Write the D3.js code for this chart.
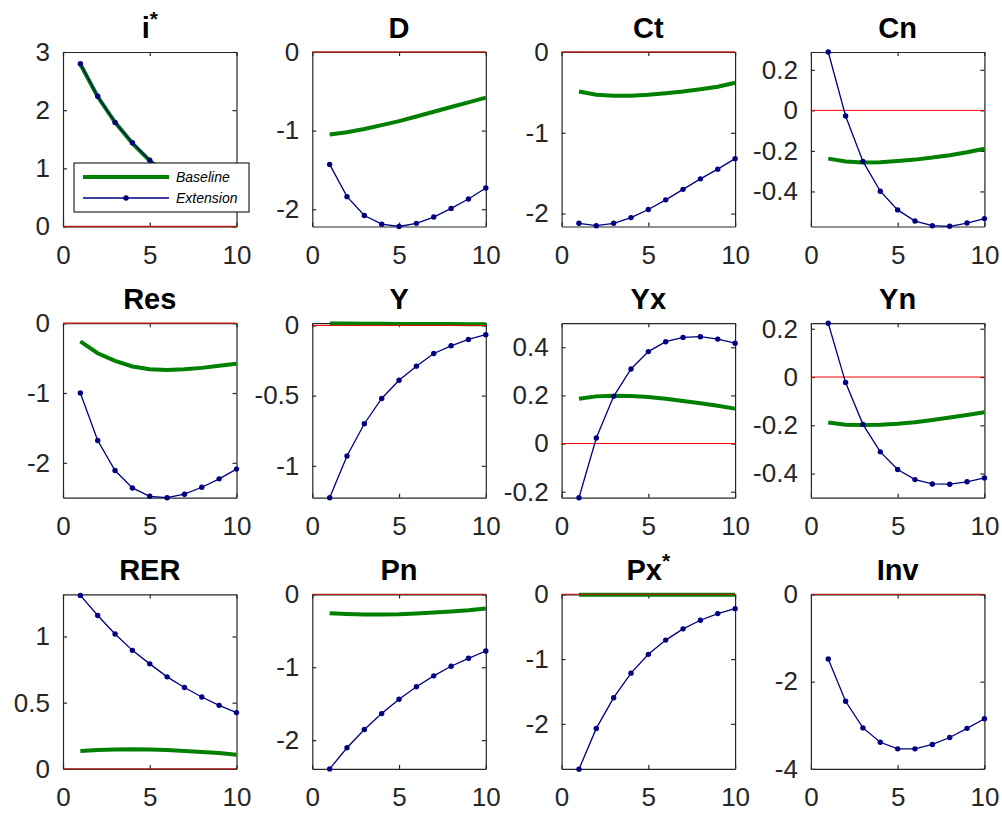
<!DOCTYPE html>
<html lang="en">
<head>
    <meta charset="UTF-8">
    <title>IRF</title>
    <style>
        body{ margin:0; background:#fff; }
        text{ font-family:"Liberation Sans", Arial, Helvetica, sans-serif; }
        .tick text{ fill:#262626; font-size:26px; }
        .domain, .tick line{ stroke:#262626; stroke-width:1.2px; }
    </style>
    <script src="https://d3js.org/d3.v7.min.js"></script>
</head>
<body>
    <div class="canvas"></div>
    <script>
    const periods = [1, 2, 3, 4, 5, 6, 7, 8, 9, 10];
    const titles = ['i*', 'D', 'Ct', 'Cn', 'Res', 'Y', 'Yx', 'Yn', 'RER', 'Pn', 'Px*', 'Inv'];

    // baseline (green) responses
    const baseIstar = [2.79, 2.23, 1.79, 1.43, 1.13, 0.90, 0.72, 0.57, 0.46, 0.37];
    const baseD   = [-1.05, -1.02, -0.98, -0.93, -0.88, -0.82, -0.76, -0.70, -0.64, -0.58];
    const baseCt  = [-0.49, -0.53, -0.54, -0.54, -0.53, -0.51, -0.49, -0.46, -0.43, -0.38];
    const baseCn  = [-0.238, -0.252, -0.257, -0.256, -0.250, -0.243, -0.233, -0.221, -0.207, -0.189];
    const baseRes = [-0.26, -0.43, -0.54, -0.62, -0.66, -0.67, -0.66, -0.64, -0.61, -0.58];
    const baseY   = [0.013, 0.013, 0.012, 0.012, 0.011, 0.011, 0.010, 0.010, 0.009, 0.009];
    const baseYx  = [0.186, 0.196, 0.199, 0.198, 0.193, 0.186, 0.177, 0.167, 0.157, 0.145];
    const baseYn  = [-0.188, -0.198, -0.199, -0.198, -0.194, -0.187, -0.178, -0.168, -0.157, -0.146];
    const baseRER = [0.135, 0.142, 0.147, 0.148, 0.146, 0.142, 0.136, 0.128, 0.120, 0.107];
    const basePn  = [-0.259, -0.270, -0.277, -0.277, -0.273, -0.263, -0.250, -0.235, -0.218, -0.195];
    const basePx  = [-0.004, -0.004, -0.004, -0.004, -0.004, -0.004, -0.004, -0.004, -0.004, -0.004];
    const baseInv = [];

    // extension (navy, dotted markers) responses
    const extIstar = [2.80, 2.24, 1.79, 1.44, 1.14, 0.91, 0.73, 0.58, 0.47, 0.38];
    const extD   = [-1.43, -1.84, -2.08, -2.19, -2.22, -2.18, -2.10, -1.99, -1.87, -1.73];
    const extCt  = [-2.12, -2.15, -2.12, -2.05, -1.95, -1.83, -1.70, -1.57, -1.45, -1.32];
    const extCn  = [0.288, -0.028, -0.252, -0.399, -0.491, -0.546, -0.569, -0.572, -0.556, -0.534];
    const extRes = [-1.00, -1.68, -2.11, -2.36, -2.48, -2.50, -2.45, -2.35, -2.23, -2.09];
    const extY   = [-1.227, -0.93, -0.70, -0.52, -0.39, -0.29, -0.20, -0.145, -0.10, -0.066];
    const extYx  = [-0.225, 0.023, 0.196, 0.310, 0.382, 0.423, 0.441, 0.444, 0.434, 0.417];
    const extYn  = [0.223, -0.023, -0.196, -0.310, -0.383, -0.425, -0.443, -0.444, -0.434, -0.418];
    const extRER = [1.31, 1.158, 1.018, 0.895, 0.793, 0.695, 0.615, 0.543, 0.480, 0.425];
    const extPn  = [-2.395, -2.105, -1.855, -1.636, -1.44, -1.268, -1.118, -0.986, -0.877, -0.777];
    const extPx  = [-2.70, -2.07, -1.596, -1.217, -0.926, -0.706, -0.532, -0.399, -0.297, -0.22];
    const extInv = [-1.48, -2.45, -3.06, -3.39, -3.54, -3.54, -3.44, -3.28, -3.07, -2.85];

    const baselines = [baseIstar, baseD, baseCt, baseCn, baseRes, baseY, baseYx, baseYn, baseRER, basePn, basePx, baseInv];
    const extensions = [extIstar, extD, extCt, extCn, extRes, extY, extYx, extYn, extRER, extPn, extPx, extInv];

    // y limits and y tick values per panel
    const yLimits = [[0, 3], [-2.22, 0], [-2.16, 0], [-0.573, 0.288], [-2.5, 0], [-1.227, 0.016],
                     [-0.225, 0.5], [-0.5, 0.223], [0, 1.3175], [-2.395, 0], [-2.696, 0], [-4, 0]];
    const yTicks = [[0, 1, 2, 3], [-2, -1, 0], [-2, -1, 0], [-0.4, -0.2, 0, 0.2], [-2, -1, 0], [-1, -0.5, 0],
                    [-0.2, 0, 0.2, 0.4], [-0.4, -0.2, 0, 0.2], [0, 0.5, 1], [-2, -1, 0], [-2, -1, 0], [-4, -2, 0]];
    const xTicks = [0, 5, 10];
    const legendLabels = ['Baseline', 'Extension'];

    const W = 173.5, H = 174.5;
    const svg = d3.select('.canvas')
                    .append('svg')
                    .attr('width', 1002)
                    .attr('height', 817);

    titles.forEach((title, i) => {
        const r = Math.floor(i / 4), c = i % 4;
        const left = 63 + c * 249.3, top = 52 + r * 271.2;
        const x = d3.scaleLinear().domain([0, 10]).range([left, left + W]);
        const y = d3.scaleLinear().domain(yLimits[i]).range([top + H, top]);
        const g = svg.append('g');

        g.append('rect')
            .attr('x', left).attr('y', top).attr('width', W).attr('height', H)
            .attr('fill', '#fff');

        const fmt = d => String(d);
        g.append('g').attr('transform', `translate(0,${top + H})`)
            .call(d3.axisBottom(x).tickValues(xTicks).tickSize(-4).tickSizeOuter(0).tickPadding(19).tickFormat(fmt));
        g.append('g').attr('transform', `translate(0,${top})`)
            .call(d3.axisTop(x).tickValues(xTicks).tickSize(-4).tickSizeOuter(0).tickFormat(''));
        g.append('g').attr('transform', `translate(${left},0)`)
            .call(d3.axisLeft(y).tickValues(yTicks[i]).tickSize(-4).tickSizeOuter(0).tickPadding(13).tickFormat(fmt));
        g.append('g').attr('transform', `translate(${left + W},0)`)
            .call(d3.axisRight(y).tickValues(yTicks[i]).tickSize(-4).tickSizeOuter(0).tickFormat(''));

        // title (asterisk as superscript)
        const t = g.append('text')
            .attr('x', left + W / 2).attr('y', top - 14)
            .attr('text-anchor', 'middle')
            .attr('font-weight', 'bold').attr('font-size', 29).attr('fill', '#000');
        const star = title.endsWith('*');
        t.append('tspan').text(star ? title.slice(0, -1) : title);
        if (star) t.append('tspan').attr('dy', -12).attr('font-size', 21).text('*');

        const line = d3.line().x((d, k) => x(periods[k])).y(d => y(d));

        if (baselines[i].length) {
            g.append('path').datum(baselines[i])
                .attr('d', line)
                .attr('fill', 'none').attr('stroke', '#008000').attr('stroke-width', 4);
        }

        // zero line (darker where it sits on the box edge)
        const onEdge = y(0) <= top + 0.5 || y(0) >= top + H - 0.5;
        g.append('line')
            .attr('x1', x(0)).attr('x2', x(10)).attr('y1', y(0)).attr('y2', y(0))
            .attr('stroke', onEdge ? '#b0201c' : '#ff0000').attr('stroke-width', onEdge ? 1.4 : 1);

        g.append('path').datum(extensions[i])
            .attr('d', line)
            .attr('fill', 'none').attr('stroke', '#000080').attr('stroke-width', 1.3);
        g.selectAll('circle')
            .data(extensions[i])
            .enter()
            .append('circle')
            .attr('cx', (d, k) => x(periods[k]))
            .attr('cy', d => y(d))
            .attr('r', 2.7)
            .attr('fill', '#000080');

        if (i === 0) {
            const lg = g.append('g').attr('transform', `translate(${left},${top})`);
            lg.append('rect')
                .attr('x', 11).attr('y', 111).attr('width', 175).attr('height', 49)
                .attr('fill', '#fff').attr('stroke', '#262626').attr('stroke-width', 1.2);
            lg.append('line').attr('x1', 20).attr('x2', 106).attr('y1', 125).attr('y2', 125)
                .attr('stroke', '#008000').attr('stroke-width', 4);
            lg.append('line').attr('x1', 20).attr('x2', 106).attr('y1', 146).attr('y2', 146)
                .attr('stroke', '#000080').attr('stroke-width', 1.3);
            lg.append('circle').attr('cx', 63).attr('cy', 146).attr('r', 2.7).attr('fill', '#000080');
            lg.selectAll('text.lab')
                .data(legendLabels)
                .enter()
                .append('text')
                .attr('class', 'lab')
                .attr('x', 113)
                .attr('y', (d, k) => 125 + k * 21)
                .attr('dy', '0.35em')
                .attr('font-size', 14)
                .attr('font-style', 'italic')
                .attr('fill', '#000')
                .text(d => d);
        }
    });
    </script>
</body>
</html>
